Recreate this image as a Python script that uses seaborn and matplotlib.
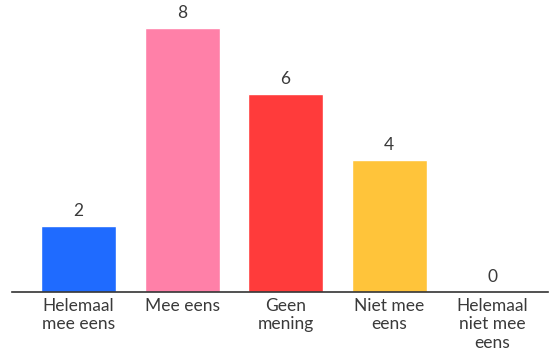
import matplotlib
matplotlib.use("Agg")
import matplotlib.pyplot as plt
import seaborn as sns
import pandas as pd

categories = ["Helemaal\nmee eens", "Mee eens", "Geen\nmening", "Niet mee\neens", "Helemaal\nniet mee\neens"]
values = [2, 8, 6, 4, 0]
colors = ["#1F6BFF", "#FF80A8", "#FF3B3B", "#FFC43A", "#FFFFFF"]

sns.set_theme(style="white")
plt.rcParams['font.family'] = ['Lato', 'DejaVu Sans']

df = pd.DataFrame({"cat": categories, "val": values})

fig = plt.figure(figsize=(5.5, 3.51), dpi=100)
ax = fig.add_axes([12/550, 59/351, 536/550, 292/351])
sns.barplot(data=df, x="cat", y="val", hue="cat", palette=colors, legend=False,
            width=0.725, ax=ax, saturation=1)

for i, v in enumerate(values):
    ax.text(i, v + 0.2, str(v), ha="center", va="bottom", fontsize=12.5, color="#3a3a3a")

ax.set_xlim(-0.643, 4.536)
ax.set_ylim(0, 292/33)
ax.set_xlabel("")
ax.set_ylabel("")
ax.set_yticks([])
for s in ["top", "right", "left"]:
    ax.spines[s].set_visible(False)
ax.spines["bottom"].set_color("#333333")
ax.spines["bottom"].set_linewidth(1.2)
ax.tick_params(axis="x", length=0, pad=4, labelsize=12.5, colors="#3a3a3a")
for lbl in ax.get_xticklabels():
    lbl.set_linespacing(1.2)

fig.savefig("out.png", dpi=100)
